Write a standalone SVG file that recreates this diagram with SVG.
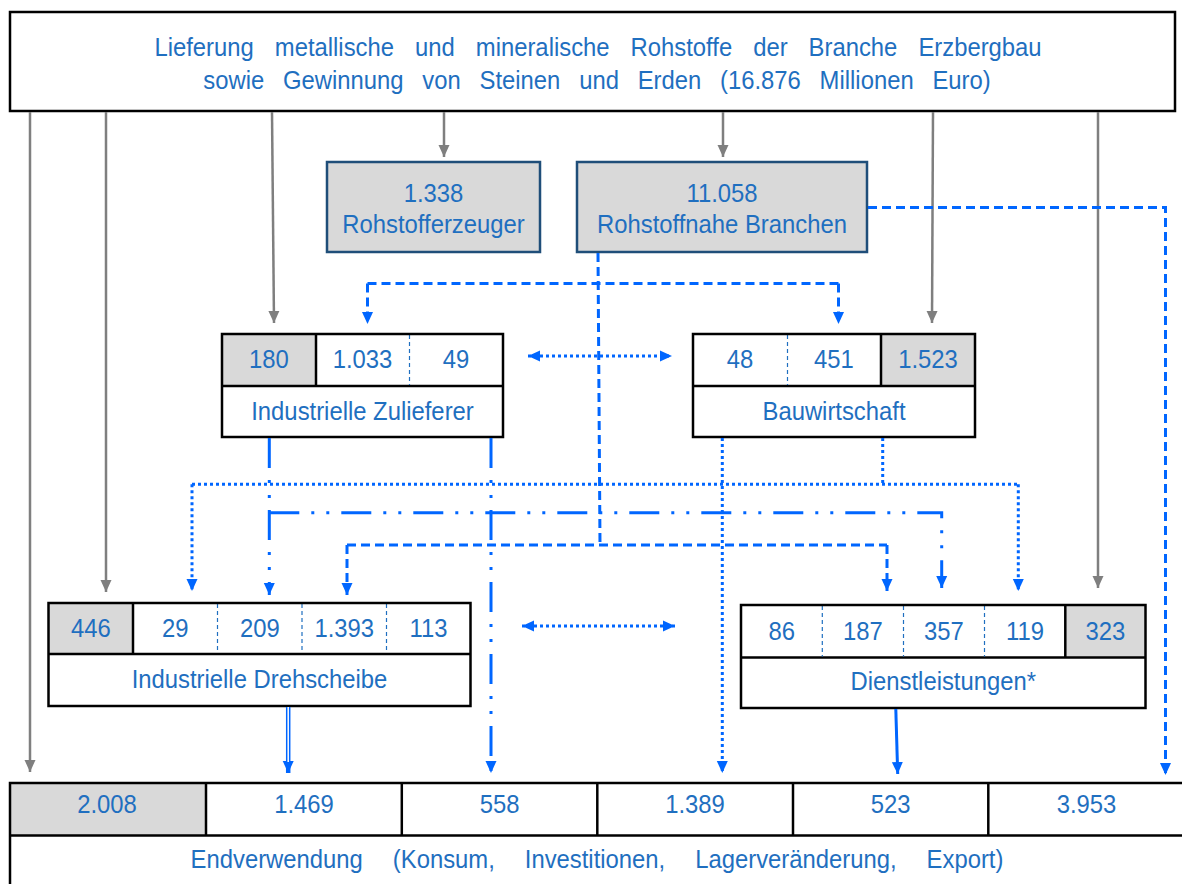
<svg xmlns="http://www.w3.org/2000/svg" width="1182" height="884" viewBox="0 0 1182 884">
<style>
text{font-family:"Liberation Sans",Arial,sans-serif;font-size:26.5px;fill:#1f6fc0;text-anchor:middle}
.bg{fill:#fff}
.gray{fill:#d9d9d9}
.frame{fill:none;stroke:#000;stroke-width:2.5}
.rb{fill:#d9d9d9;stroke:#1f4e79;stroke-width:2.5}
.div{stroke:#000;stroke-width:2.5}
.ddiv{stroke:#1f6fc0;stroke-width:1.2;stroke-dasharray:4 3}
.g{stroke:#7f7f7f;stroke-width:2.5;fill:none;marker-end:url(#ag)}
.b{stroke:#0066ff;stroke-width:3;fill:none}
.dash{stroke-dasharray:9 5}
.dot{stroke-dasharray:3 3}
.dd{stroke-dasharray:30 12 3 12 3 12}
.ae{marker-end:url(#ab)}
.as{marker-start:url(#ab)}
.title1{word-spacing:16px}
.title2{word-spacing:13.5px}
.foot{word-spacing:26px}
</style>
<defs>
<marker id="ag" markerUnits="userSpaceOnUse" markerWidth="12" markerHeight="12" viewBox="0 0 12 12" refX="12" refY="6" orient="auto"><path d="M0,0.5 L12,6 L0,11.5 z" fill="#7f7f7f"/></marker>
<marker id="ab" markerUnits="userSpaceOnUse" markerWidth="12" markerHeight="12" viewBox="0 0 12 12" refX="12" refY="6" orient="auto-start-reverse"><path d="M0,0.5 L12,6 L0,11.5 z" fill="#0066ff"/></marker>
</defs>
<rect width="1182" height="884" fill="#fff"/>

<g id="top">
<rect class="bg" x="10" y="12" width="1165" height="99"/>
<rect class="frame" x="10" y="12" width="1165" height="99"/>
<text class="title1" transform="matrix(0.9 0 0 1 598 0)" y="56">Lieferung metallische und mineralische Rohstoffe der Branche Erzbergbau</text>
<text class="title2" transform="matrix(0.9 0 0 1 597 0)" y="89">sowie Gewinnung von Steinen und Erden (16.876 Millionen Euro)</text>
</g>

<g id="rohstofferzeuger">
<rect class="rb" x="327" y="162" width="213" height="90"/>
<text transform="matrix(0.9 0 0 1 433.5 0)" y="202.5">1.338</text>
<text transform="matrix(0.9 0 0 1 433.5 0)" y="233">Rohstofferzeuger</text>
</g>

<g id="rohstoffnahe">
<rect class="rb" x="577" y="162" width="290" height="90"/>
<text transform="matrix(0.9 0 0 1 722 0)" y="202.5">11.058</text>
<text transform="matrix(0.9 0 0 1 722 0)" y="233">Rohstoffnahe Branchen</text>
</g>

<g id="zulieferer">
<rect class="bg" x="222" y="334" width="281" height="103"/>
<rect class="gray" x="222" y="334" width="94" height="52"/>
<line class="div" x1="222" y1="386" x2="503" y2="386"/>
<line class="div" x1="316" y1="334" x2="316" y2="386"/>
<line class="ddiv" x1="409.5" y1="335" x2="409.5" y2="385"/>
<rect class="frame" x="222" y="334" width="281" height="103"/>
<text transform="matrix(0.9 0 0 1 269 0)" y="368.5">180</text>
<text transform="matrix(0.9 0 0 1 362.5 0)" y="368.5">1.033</text>
<text transform="matrix(0.9 0 0 1 456 0)" y="368.5">49</text>
<text transform="matrix(0.9 0 0 1 362.5 0)" y="420">Industrielle Zulieferer</text>
</g>

<g id="bauwirtschaft">
<rect class="bg" x="693" y="334" width="282" height="103"/>
<rect class="gray" x="881" y="334" width="94" height="52"/>
<line class="div" x1="693" y1="386" x2="975" y2="386"/>
<line class="div" x1="881" y1="334" x2="881" y2="386"/>
<line class="ddiv" x1="787.5" y1="335" x2="787.5" y2="385"/>
<rect class="frame" x="693" y="334" width="282" height="103"/>
<text transform="matrix(0.9 0 0 1 740 0)" y="368.5">48</text>
<text transform="matrix(0.9 0 0 1 834 0)" y="368.5">451</text>
<text transform="matrix(0.9 0 0 1 928 0)" y="368.5">1.523</text>
<text transform="matrix(0.9 0 0 1 834 0)" y="420">Bauwirtschaft</text>
</g>

<g id="drehscheibe">
<rect class="bg" x="48.5" y="603" width="422" height="103"/>
<rect class="gray" x="48.5" y="603" width="84.5" height="51"/>
<line class="div" x1="48.5" y1="654" x2="470.5" y2="654"/>
<line class="div" x1="133" y1="603" x2="133" y2="654"/>
<line class="ddiv" x1="217.5" y1="604" x2="217.5" y2="653"/>
<line class="ddiv" x1="302" y1="604" x2="302" y2="653"/>
<line class="ddiv" x1="386.5" y1="604" x2="386.5" y2="653"/>
<rect class="frame" x="48.5" y="603" width="422" height="103"/>
<text transform="matrix(0.9 0 0 1 91 0)" y="637">446</text>
<text transform="matrix(0.9 0 0 1 175.3 0)" y="637">29</text>
<text transform="matrix(0.9 0 0 1 259.8 0)" y="637">209</text>
<text transform="matrix(0.9 0 0 1 344.3 0)" y="637">1.393</text>
<text transform="matrix(0.9 0 0 1 428.6 0)" y="637">113</text>
<text transform="matrix(0.9 0 0 1 259.5 0)" y="688.5">Industrielle Drehscheibe</text>
</g>

<g id="dienstleistungen">
<rect class="bg" x="741" y="605" width="404.5" height="103"/>
<rect class="gray" x="1065.3" y="605" width="80.2" height="52.5"/>
<line class="div" x1="741" y1="657.5" x2="1145.5" y2="657.5"/>
<line class="div" x1="1065.3" y1="605" x2="1065.3" y2="657.5"/>
<line class="ddiv" x1="822.3" y1="606" x2="822.3" y2="656.5"/>
<line class="ddiv" x1="903.5" y1="606" x2="903.5" y2="656.5"/>
<line class="ddiv" x1="984.5" y1="606" x2="984.5" y2="656.5"/>
<rect class="frame" x="741" y="605" width="404.5" height="103"/>
<text transform="matrix(0.9 0 0 1 781.7 0)" y="640">86</text>
<text transform="matrix(0.9 0 0 1 863 0)" y="640">187</text>
<text transform="matrix(0.9 0 0 1 944 0)" y="640">357</text>
<text transform="matrix(0.9 0 0 1 1025 0)" y="640">119</text>
<text transform="matrix(0.9 0 0 1 1105.5 0)" y="640">323</text>
<text transform="matrix(0.9 0 0 1 943.3 0)" y="690.5">Dienstleistungen*</text>
</g>

<g id="endverwendung">
<rect class="bg" x="10" y="783" width="1176" height="112"/>
<rect class="gray" x="10" y="783" width="196" height="52.5"/>
<line class="div" x1="10" y1="835.5" x2="1186" y2="835.5"/>
<line class="div" x1="206" y1="783" x2="206" y2="835.5"/>
<line class="div" x1="401.8" y1="783" x2="401.8" y2="835.5"/>
<line class="div" x1="597.3" y1="783" x2="597.3" y2="835.5"/>
<line class="div" x1="793" y1="783" x2="793" y2="835.5"/>
<line class="div" x1="988.3" y1="783" x2="988.3" y2="835.5"/>
<rect class="frame" x="10" y="783" width="1176" height="112"/>
<text transform="matrix(0.9 0 0 1 107 0)" y="813.5">2.008</text>
<text transform="matrix(0.9 0 0 1 304 0)" y="813.5">1.469</text>
<text transform="matrix(0.9 0 0 1 499.6 0)" y="813.5">558</text>
<text transform="matrix(0.9 0 0 1 695 0)" y="813.5">1.389</text>
<text transform="matrix(0.9 0 0 1 890.6 0)" y="813.5">523</text>
<text transform="matrix(0.9 0 0 1 1086.5 0)" y="813.5">3.953</text>
<text class="foot" transform="matrix(0.9 0 0 1 597 0)" y="868">Endverwendung (Konsum, Investitionen, Lagerveränderung, Export)</text>
</g>

<g id="connectors">
<path class="g" d="M30,112 V772"/>
<path class="g" d="M106,112 V592"/>
<path class="g" d="M272,112 L274,323"/>
<path class="g" d="M444,112 V157"/>
<path class="g" d="M723,112 V157"/>
<path class="g" d="M933,112 L932,323"/>
<path class="g" d="M1098,112 V588"/>

<path class="b dash" d="M598,253 L600,545"/>
<path class="b dash" d="M347,545 H887"/>
<path class="b dash ae" d="M347,545 V595"/>
<path class="b dash ae" d="M887,545 V591"/>
<path class="b dash" d="M367.5,283.5 H838.5"/>
<path class="b dash ae" d="M367.5,283.5 V324"/>
<path class="b dash ae" d="M838.5,283.5 V324"/>
<path class="b dash ae" d="M868,207.5 H1165.5 V775"/>

<path class="b dot ae as" d="M528,356 H672"/>
<path class="b dot ae as" d="M522,626 H675"/>
<path class="b dot ae" d="M722.3,438 V773"/>
<path class="b dot" d="M882.7,438 V484.3"/>
<path class="b dot" d="M192,484.3 H1018.3"/>
<path class="b dot ae" d="M192,484.3 V591"/>
<path class="b dot ae" d="M1018.3,484.3 V591"/>

<path class="b dd ae" d="M269.3,438 V595"/>
<path class="b dd ae" d="M491,438 V773"/>
<path class="b dd ae" d="M269.3,512.7 H941.7 V588"/>

<path class="b ae" style="stroke-width:4.5" d="M288.2,707 V773"/>
<path d="M288.2,707 V762" stroke="#fff" stroke-width="1.5" fill="none"/>
<path class="b ae" d="M895.8,709 L897.7,774"/>
</g>
</svg>
